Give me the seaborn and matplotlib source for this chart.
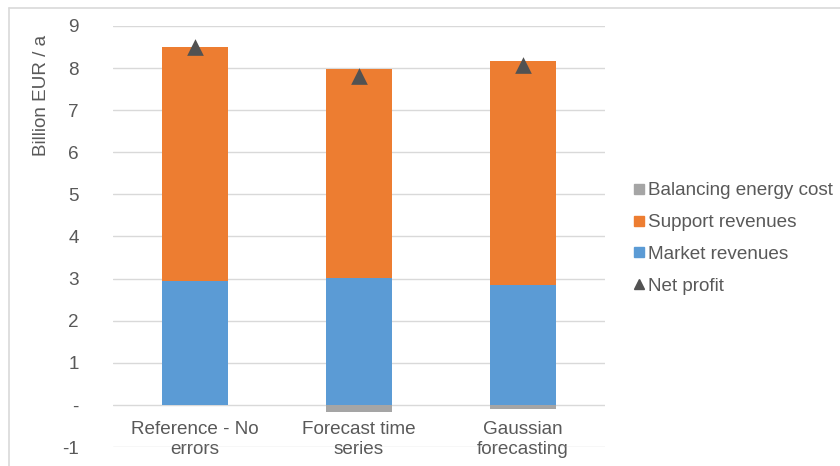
import matplotlib
matplotlib.use("Agg")
import matplotlib.pyplot as plt
import seaborn as sns
import pandas as pd
from matplotlib.lines import Line2D

# Revenue breakdown per forecasting approach (billion EUR per year)
categories = ["Reference - No\nerrors", "Forecast time\nseries", "Gaussian\nforecasting"]
market_revenues = [2.95, 3.02, 2.84]
support_revenues = [5.54, 4.95, 5.32]
balancing_cost = [0.0, -0.16, -0.09]
net_profit = [8.49, 7.81, 8.07]

y_ticks = [-1, 0, 1, 2, 3, 4, 5, 6, 7, 8, 9]
y_tick_labels = ["-1", "-", "1", "2", "3", "4", "5", "6", "7", "8", "9"]

series_labels = ["Balancing energy cost", "Support revenues", "Market revenues", "Net profit"]

BLUE = "#5B9BD5"
ORANGE = "#ED7D31"
GRAY = "#A5A5A5"
DARK = "#525252"
TEXT = "#595959"
GRID = "#D9D9D9"
FS = 13.6

df = pd.DataFrame({
    "category": categories,
    "market": market_revenues,
    "support": support_revenues,
    "balancing": balancing_cost,
    "net": net_profit,
})
# top of the stacked positive part (market + support)
df["revenue_total"] = df["market"] + df["support"]

sns.set_theme(style="white")
plt.rcParams["font.family"] = ["Liberation Sans", "DejaVu Sans"]

fig = plt.figure(figsize=(8.4, 4.66), dpi=100)
ax = fig.add_axes([113 / 840, 1 - 447 / 466, 492 / 840, 421 / 466])

bar_kw = dict(order=categories, width=0.4, saturation=1, errorbar=None, ax=ax,
              zorder=2, linewidth=0)
sns.barplot(data=df, x="category", y="revenue_total", color=ORANGE, **bar_kw)
sns.barplot(data=df, x="category", y="market", color=BLUE, **bar_kw)
sns.barplot(data=df, x="category", y="balancing", color=GRAY, **bar_kw)
sns.stripplot(data=df, x="category", y="net", order=categories, jitter=False,
              marker="^", size=12, color=DARK, linewidth=0, ax=ax, zorder=4)

ax.set_ylim(-1, 9)
ax.set_xlim(-0.5, 2.5)
ax.set_yticks(y_ticks)
ax.set_yticklabels(y_tick_labels)
ax.set_xticks(range(len(categories)))
ax.set_xticklabels(categories)
ax.set_xlabel("")
ax.set_ylabel("")
ax.yaxis.grid(True, color=GRID, linewidth=1)
ax.xaxis.grid(False)
ax.set_axisbelow(True)
ax.tick_params(axis="y", length=0, pad=24.5, labelsize=FS, labelcolor=TEXT)
ax.tick_params(axis="x", length=0, pad=-19, labelsize=FS, labelcolor=TEXT)
for lbl in ax.get_xticklabels():
    lbl.set_linespacing(1.25)
for s in ax.spines.values():
    s.set_visible(False)

fig.text(42 / 840, 1 - 95 / 466, "Billion EUR / a", rotation=90,
         ha="center", va="center", fontsize=FS, color=TEXT)

handles = [
    Line2D([], [], linestyle="none", marker="s", markersize=7.2, color=GRAY),
    Line2D([], [], linestyle="none", marker="s", markersize=7.2, color=ORANGE),
    Line2D([], [], linestyle="none", marker="s", markersize=7.2, color=BLUE),
    Line2D([], [], linestyle="none", marker="^", markersize=7, color=DARK),
]
fig.legend(handles, series_labels, loc="center left",
           bbox_to_anchor=(633 / 840, 1 - 238.5 / 466), frameon=False,
           borderpad=0, borderaxespad=0, handlelength=0.6, handletextpad=0.2,
           labelspacing=0.78, fontsize=FS, labelcolor=TEXT)

# chart-area border along the top and left edges
fig.add_artist(Line2D([9 / 840, 1], [1 - 8 / 466, 1 - 8 / 466], color=GRID, lw=1.2))
fig.add_artist(Line2D([9 / 840, 9 / 840], [0, 1 - 8 / 466], color=GRID, lw=1.2))

fig.savefig("out.png", dpi=100)
